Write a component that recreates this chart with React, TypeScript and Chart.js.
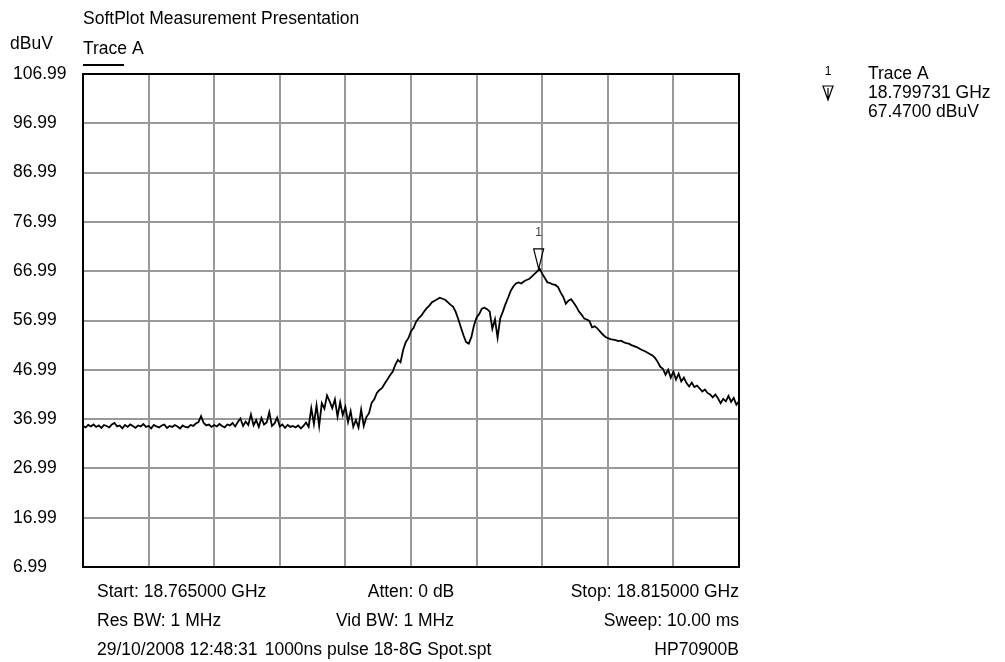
import React, { useEffect, useRef } from "react";
import { Chart, registerables } from "chart.js";

Chart.register(...registerables);

// ---- data ----
const startFreqMHz = 18765;
const stopFreqMHz = 18815;
const sweepStepMHz = 0.2;
const levels: number[] = [
  35.6, 35.3, 35.8, 35.5, 35.9, 35.4, 35.7, 35.2, 35.8, 35.6,
  35.3, 35.9, 36.2, 35.5, 35.7, 35.1, 35.8, 35.4, 35.9, 35.6,
  35.2, 35.7, 35.5, 36.0, 35.4, 35.6, 35.1, 35.8, 35.5, 35.3,
  35.7, 35.9, 35.2, 35.6, 35.4, 35.8, 35.5, 35.1, 35.7, 35.4,
  35.3, 35.8, 35.6, 36.1, 36.4, 37.6, 36.2, 35.7, 35.9, 35.4,
  35.8, 35.5, 36.0, 35.6, 35.3, 35.9, 35.7, 36.2, 35.5, 36.4,
  37.1, 35.6, 36.5, 35.8, 37.9, 35.7, 36.8, 35.4, 37.2, 35.9,
  36.3, 38.4, 35.6, 36.1, 37.3, 35.5, 35.9, 35.2, 35.8, 35.4,
  35.6, 35.3, 35.7, 35.1, 35.6, 36.3, 35.4, 39.2, 36.0, 39.8,
  35.6, 40.2, 39.1, 41.8, 40.6, 39.2, 41.0, 37.5, 40.4, 37.8,
  39.5, 36.4, 38.6, 35.4, 36.8, 35.3, 38.9, 35.6, 37.4, 38.2,
  40.3, 41.0, 42.3, 42.9, 43.3, 44.2, 45.0, 45.9, 46.6, 48.0,
  49.0, 48.5, 51.0, 52.6, 53.4, 54.8, 55.5, 56.8, 57.5, 58.0,
  58.8, 59.5, 60.0, 60.7, 61.0, 61.3, 61.6, 61.4, 61.2, 60.7,
  60.2, 59.8, 58.8, 57.3, 55.6, 54.0, 52.6, 52.3, 53.6, 56.0,
  57.6, 58.3, 59.4, 59.6, 59.3, 58.8, 55.3, 57.2, 53.5, 57.4,
  58.8, 60.3, 61.6, 63.0, 63.9, 64.5, 64.7, 64.5, 64.9, 65.2,
  65.4, 65.9, 66.4, 66.9, 67.5, 66.5, 65.6, 64.7, 64.6, 64.3,
  64.2, 63.8, 62.7, 61.8, 60.4, 61.0, 61.3, 60.6, 59.8, 58.8,
  58.2, 57.4, 57.2, 56.9, 55.6, 55.8, 55.4, 54.8, 54.2, 53.7,
  53.4, 53.2, 53.1, 53.0, 52.8, 52.9, 52.6, 52.4, 52.3, 52.0,
  51.8, 51.6, 51.3, 51.0, 50.8, 50.5, 50.2, 49.9, 49.4, 48.6,
  47.6, 47.2, 46.0, 47.0, 45.4, 46.6, 45.0, 46.2, 44.6, 45.4,
  44.3, 43.6, 44.4, 43.5, 43.8, 43.2, 42.6, 43.0, 42.3, 42.0,
  41.4, 42.0, 41.2, 40.2, 41.1, 40.6, 41.7, 40.5, 41.3, 39.9,
  40.6,
];
const yTicks = [6.99, 16.99, 26.99, 36.99, 46.99, 56.99, 66.99, 76.99, 86.99, 96.99, 106.99];
const xTicks = [18765, 18770, 18775, 18780, 18785, 18790, 18795, 18800, 18805, 18810, 18815];
const markerFreqMHz = 18799.731;
const markerLevel = 67.47;
const markerLabels = ["Trace A", "18.799731 GHz", "67.4700 dBuV"];
const titleText = "SoftPlot Measurement Presentation";
const unitText = "dBuV";
const traceName = "Trace A";
const footerRows = [
  ["Start: 18.765000 GHz", "Atten: 0 dB", "Stop: 18.815000 GHz"],
  ["Res BW: 1 MHz", "Vid BW: 1 MHz", "Sweep: 10.00 ms"],
  ["29/10/2008 12:48:31", "1000ns pulse 18-8G Spot.spt", "HP70900B"],
];

const FONT = '"Liberation Sans", Arial, sans-serif';
const FS = 17.5;

const decorPlugin = {
  id: "decor",
  beforeDatasetsDraw(chart: any) {
    const { ctx, chartArea } = chart;
    ctx.save();
    ctx.strokeStyle = "#000";
    ctx.lineWidth = 2;
    ctx.strokeRect(chartArea.left, chartArea.top, chartArea.right - chartArea.left, chartArea.bottom - chartArea.top);
    ctx.restore();
  },
  afterDraw(chart: any) {
    const { ctx, chartArea, scales } = chart;
    ctx.save();
    ctx.fillStyle = "#000";
    ctx.textBaseline = "middle";
    ctx.font = `${FS}px ${FONT}`;
    ctx.textAlign = "left";
    ctx.fillText(titleText, chartArea.left, 19);
    ctx.fillText(unitText, 10, 44);
    ctx.fillText(traceName, chartArea.left, 49);
    ctx.lineWidth = 2;
    ctx.beginPath();
    ctx.moveTo(chartArea.left, 65);
    ctx.lineTo(chartArea.left + 41, 65);
    ctx.stroke();

    // footer
    const rowsY = [592, 621, 650];
    const midXs = [411, 395, 378];
    footerRows.forEach((row, i) => {
      ctx.textAlign = "left";
      ctx.fillText(row[0], 97, rowsY[i]);
      ctx.textAlign = "center";
      ctx.fillText(row[1], midXs[i], rowsY[i]);
      ctx.textAlign = "right";
      ctx.fillText(row[2], chartArea.right, rowsY[i]);
    });

    // marker on trace
    const mx = scales.x.getPixelForValue(markerFreqMHz);
    const my = scales.y.getPixelForValue(markerLevel);
    ctx.strokeStyle = "#000";
    ctx.lineWidth = 1.2;
    ctx.beginPath();
    ctx.moveTo(mx - 5, my - 20);
    ctx.lineTo(mx + 5, my - 20);
    ctx.lineTo(mx, my);
    ctx.closePath();
    ctx.stroke();
    ctx.fillStyle = "#444";
    ctx.textAlign = "center";
    ctx.font = `12px ${FONT}`;
    ctx.fillText("1", mx, my - 36);

    // right legend
    ctx.fillStyle = "#000";
    ctx.textAlign = "center";
    ctx.font = `12px ${FONT}`;
    ctx.fillText("1", 828, 72);
    ctx.beginPath();
    ctx.moveTo(823, 86);
    ctx.lineTo(833, 86);
    ctx.lineTo(828, 100);
    ctx.closePath();
    ctx.moveTo(828, 88);
    ctx.lineTo(828, 99);
    ctx.lineWidth = 1.2;
    ctx.stroke();
    ctx.textAlign = "left";
    ctx.font = `${FS}px ${FONT}`;
    markerLabels.forEach((t, i) => ctx.fillText(t, 868, 74 + i * 19));
    ctx.restore();
  },
};

export default function App() {
  const ref = useRef<HTMLCanvasElement>(null);
  useEffect(() => {
    if (!ref.current) return;
    const pts = levels.map((v, i) => ({ x: startFreqMHz + i * sweepStepMHz, y: v }));
    const chart = new Chart(ref.current, {
      type: "line",
      data: {
        datasets: [
          {
            data: pts,
            borderColor: "#000",
            borderWidth: 1.8,
            pointRadius: 0,
            tension: 0,
            fill: false,
          },
        ],
      },
      options: {
        responsive: false,
        animation: false,
        layout: { padding: { left: 13, top: 74, right: 266, bottom: 95 } },
        plugins: { legend: { display: false }, tooltip: { enabled: false } },
        scales: {
          x: {
            type: "linear",
            min: startFreqMHz,
            max: stopFreqMHz,
            afterBuildTicks: (s: any) => {
              s.ticks = xTicks.map((v) => ({ value: v }));
            },
            afterFit: (s: any) => {
              s.height = 0;
            },
            ticks: { display: false },
            grid: { color: "#999", lineWidth: 2, drawTicks: false },
            border: { display: false },
          },
          y: {
            type: "linear",
            min: 6.99,
            max: 106.99,
            afterBuildTicks: (s: any) => {
              s.ticks = yTicks.map((v) => ({ value: v }));
            },
            afterFit: (s: any) => {
              s.width = 70;
            },
            ticks: {
              crossAlign: "far",
              padding: 0,
              color: "#000",
              font: { family: FONT, size: FS },
              callback: (v: any) => Number(v).toFixed(2),
            },
            grid: { color: "#999", lineWidth: 2, drawTicks: false },
            border: { display: false },
          },
        },
      },
      plugins: [decorPlugin],
    });
    return () => chart.destroy();
  }, []);
  return (
    <div style={{ position: "absolute", left: 0, top: 0, width: 1005, height: 662, background: "#fff" }}>
      <canvas ref={ref} width={1005} height={662} style={{ display: "block" }} />
    </div>
  );
}
